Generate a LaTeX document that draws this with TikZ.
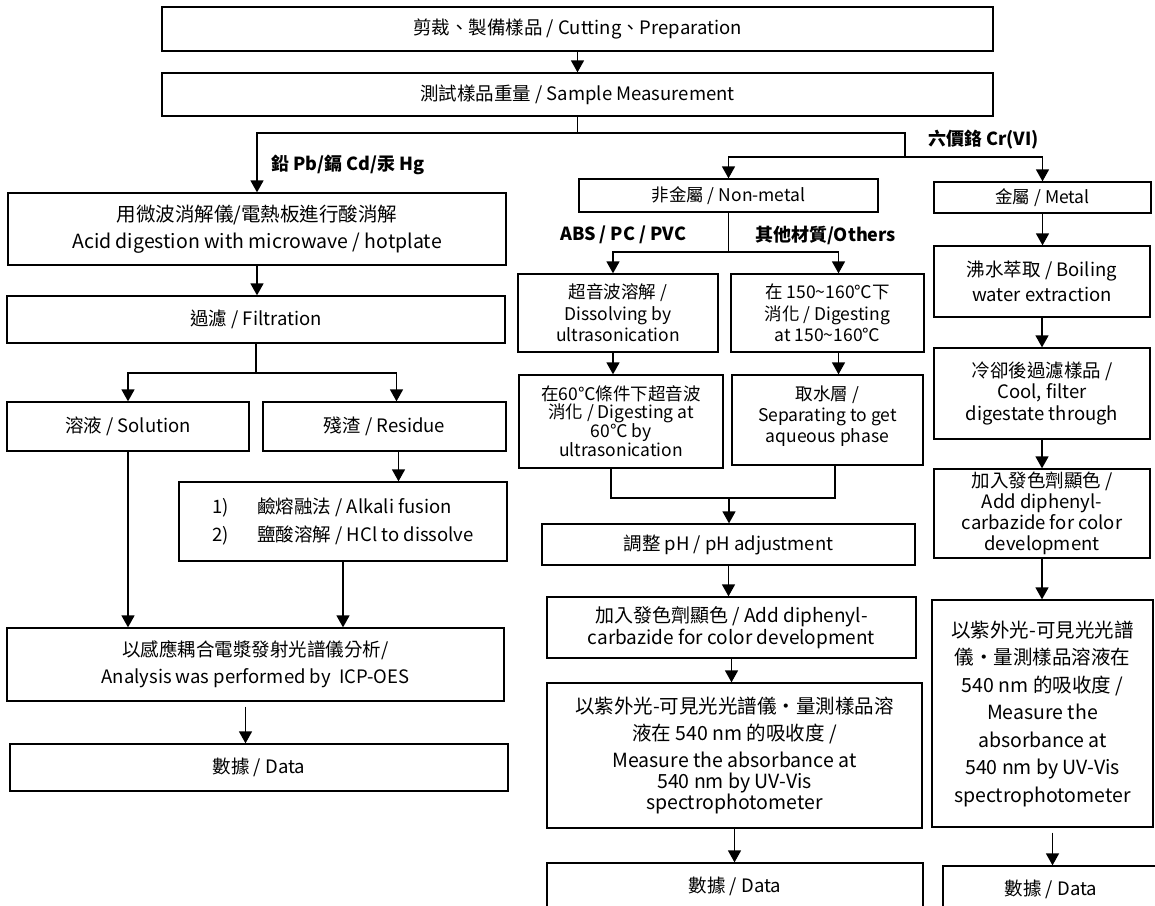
\documentclass[tikz,border=0pt]{standalone}
\usepackage{fontspec}
\setmainfont{Noto Sans CJK TC}
\usetikzlibrary{arrows.meta,calc}
\newcommand\fsz[2]{\fontsize{#1}{#2}\selectfont}

\begin{document}
\begin{tikzpicture}[x=1pt,y=-1pt]
	\tikzset{>={Triangle[width=13pt,length=12pt]}}
	\tikzset{box/.style={draw,line width=1.3pt,align=center,inner sep=0pt,font=\fsz{18.5}{22}},
		lbl/.style={anchor=west,inner sep=0pt,font=\bfseries\fsz{18}{20}},
		conn/.style={line width=1.5pt}}
	\useasboundingbox (0,0) rectangle (1155,905);
	\clip (0,0) rectangle (1155,905);

	\node[box,minimum width=831pt,minimum height=44pt] (cut) at (577.5,29) {剪裁、製備樣品 / Cutting、Preparation};
	\node[box,minimum width=831pt,minimum height=43pt] (meas) at (577.5,94.5) {測試樣品重量 / Sample Measurement};

	\node[box,minimum width=498pt,minimum height=72pt,font=\fsz{19.5}{27}] (acid) at (257,229) {用微波消解儀/電熱板進行酸消解\\Acid digestion with microwave / hotplate};
	\node[box,minimum width=498pt,minimum height=47pt] (filt) at (256,319.5) {過濾 / Filtration};
	\node[box,minimum width=242pt,minimum height=49pt] (sol) at (128,426.5) {溶液 / Solution};
	\node[box,minimum width=243pt,minimum height=49pt] (res) at (384.5,426.5) {殘渣 / Residue};
	\node[box,minimum width=328pt,minimum height=79pt,align=left,font=\fsz{18.5}{28}] (alk) at (343,521.5) {\makebox[45pt][l]{1)}鹼熔融法 / Alkali fusion\\\makebox[45pt][l]{2)}鹽酸溶解 / HCl to dissolve};
	\node[box,minimum width=497pt,minimum height=73pt,font=\fsz{18.5}{27}] (icp) at (255.5,664.5) {以感應耦合電漿發射光譜儀分析/\\Analysis was performed by\ \ ICP-OES};
	\node[box,minimum width=498pt,minimum height=47pt] (dataL) at (259,767.5) {數據 / Data};

	\node[box,minimum width=299pt,minimum height=33pt,font=\fsz{17.5}{20}] (nonmetal) at (728.5,195.5) {非金屬 / Non-metal};
	\node[box,minimum width=200pt,minimum height=78pt,font=\fsz{17.5}{21.5}] (ultra) at (618,313) {超音波溶解 /\\Dissolving by\\ultrasonication};
	\node[box,minimum width=193pt,minimum height=78pt,font=\fsz{17.5}{21.5}] (other) at (827.5,313) {在 150\textasciitilde 160℃下\\消化 / Digesting\\at 150\textasciitilde 160℃};
	\node[box,minimum width=204pt,minimum height=93pt,font=\fsz{17.5}{17.5}] (sixty) at (621,421.5) {在60℃條件下超音波\\消化 / Digesting at\\60℃ by\\ultrasonication};
	\node[box,minimum width=191pt,minimum height=90pt,font=\fsz{17.5}{21}] (aqueous) at (827.5,420) {取水層 /\\Separating to get\\aqueous phase\\[-9pt]};
	\node[box,minimum width=373pt,minimum height=41pt] (ph) at (728.5,544.5) {調整 pH / pH adjustment};
	\node[box,minimum width=369pt,minimum height=61pt,font=\fsz{19}{22}] (addM) at (731.5,627.5) {加入發色劑顯色 / Add diphenyl-\\carbazide for color development};
	\node[box,minimum width=375pt,minimum height=145pt,font=\fsz{19.5}{21}] (measM) at (734.5,755.5) {以紫外光-可見光光譜儀‧量測樣品溶\\[6.5pt]液在 540 nm 的吸收度 /\\[6pt]Measure the absorbance at\\540 nm by UV-Vis\\spectrophotometer};
	\node[box,minimum width=376pt,minimum height=47pt] (dataM) at (735,886.5) {數據 / Data};

	\node[box,minimum width=217pt,minimum height=31pt,font=\fsz{17.5}{20}] (metal) at (1042.5,197.5) {金屬 / Metal};
	\node[box,minimum width=216pt,minimum height=71pt,font=\fsz{18.5}{25}] (boil) at (1042,281.5) {沸水萃取 / Boiling\\water extraction};
	\node[box,minimum width=216pt,minimum height=91pt,font=\fsz{18.5}{21.5}] (cool) at (1042,393.5) {冷卻後過濾樣品 /\\Cool, filter\\digestate through};
	\node[box,minimum width=216pt,minimum height=89pt,font=\fsz{18.5}{21}] (addR) at (1042,513.5) {加入發色劑顯色 /\\Add diphenyl-\\carbazide for color\\development};
	\node[box,minimum width=221pt,minimum height=227pt,font=\fsz{19.5}{27.5}] (measR) at (1042.5,713.5) {以紫外光-可見光光譜\\儀‧量測樣品溶液在\\540 nm 的吸收度 /\\Measure the\\absorbance at\\540 nm by UV-Vis\\spectrophotometer};
	\node[box,minimum width=216pt,minimum height=47pt] (dataR) at (1051,889.5) {數據 / Data};

	\node[lbl] (pb) at (271,165) {鉛 Pb/鎘 Cd/汞 Hg};
	\node[lbl] (cr) at (928,140) {六價鉻 Cr(VI)};
	\node[lbl] (abs) at (560,235) {ABS / PC / PVC};
	\node[lbl] (oth) at (755,235) {其他材質/Others};

	\coordinate (split) at (577.5,133);
	\coordinate (crj) at (905,157);
	\coordinate (fj) at (256,373);
	\coordinate (nj) at (728.5,252);
	\coordinate (mj) at (729,498);

	\draw[conn,->] (cut) -- (meas);
	\draw[conn] (meas) -- (split);
	\draw[conn,->] (split) -| (acid);
	\draw[conn] (split) -| (crj);
	\draw[conn,->] (crj) -| (nonmetal);
	\draw[conn,->] (crj) -| (metal);

	\draw[conn,->] (acid.south) -- (acid.south |- filt.north);
	\draw[conn] (filt) -- (fj);
	\draw[conn,->] (fj) -| (sol);
	\draw[conn,->] (fj) -| ([xshift=12pt]res.north);
	\draw[conn,->] ([xshift=14pt]res.south) -- ([xshift=14pt]res.south |- alk.north);
	\draw[conn,->] (sol) -- (sol |- icp.north);
	\draw[conn,->] (alk) -- (alk |- icp.north);
	\draw[conn,->] ([xshift=-10pt,yshift=-5pt]icp.south) -- ([xshift=-10pt]icp.south |- dataL.north);

	\draw[conn] (nonmetal) -- (nj);
	\draw[conn,->] (nj) -| ([xshift=-5pt]ultra.north);
	\draw[conn,->] (nj) -| ([xshift=11pt]other.north);
	\draw[conn,->] ([xshift=-5pt]ultra.south) -- ([xshift=-5pt]ultra.south |- sixty.north);
	\draw[conn,->] ([xshift=11pt]other.south) -- ([xshift=11pt]other.south |- aqueous.north);
	\draw[conn] ([xshift=-10pt]sixty.south) |- (mj) -| ([xshift=7.5pt]aqueous.south);
	\draw[conn,->] (mj) -- (mj |- ph.north);
	\draw[conn,->] (ph) -- (ph |- addM.north);
	\draw[conn,->] (addM) -- (addM |- measM.north);
	\draw[conn,->] (measM) -- (measM |- dataM.north);

	\draw[conn,->] (metal) -- (metal |- boil.north);
	\draw[conn,->] (boil) -- (boil |- cool.north);
	\draw[conn,->] (cool) -- (cool |- addR.north);
	\draw[conn,->] (addR) -- (addR |- measR.north);
	\draw[conn,->] ([xshift=10pt,yshift=-5pt]measR.south) -- ([xshift=10pt]measR.south |- dataR.north);
\end{tikzpicture}
\end{document}
